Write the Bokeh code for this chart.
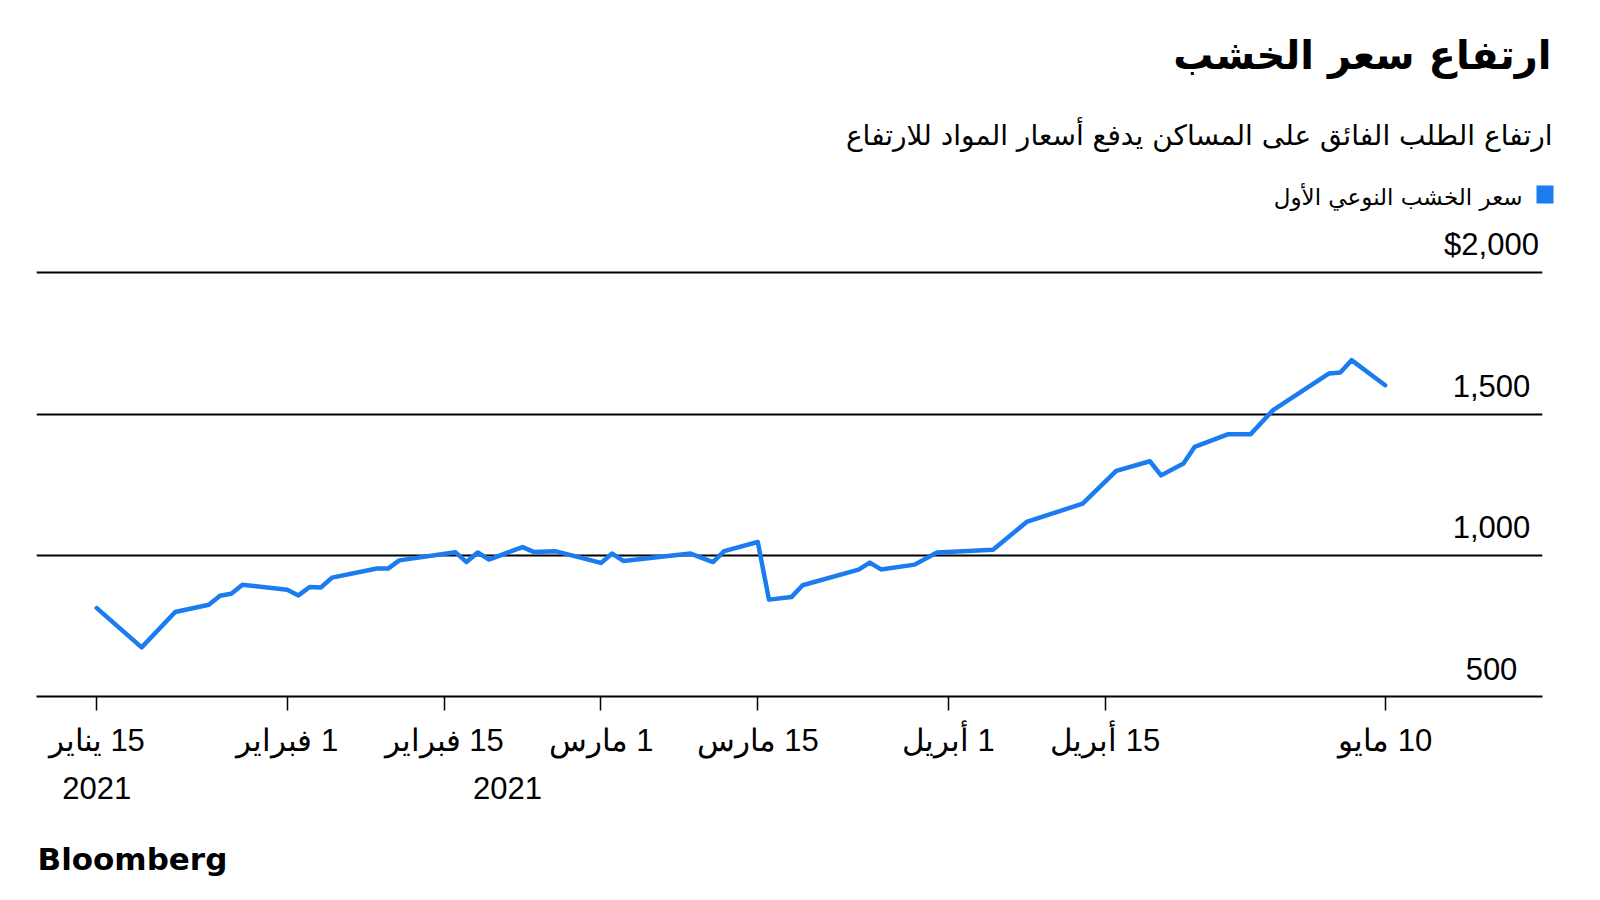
from datetime import datetime
import pandas as pd
from bokeh.plotting import figure
from bokeh.layouts import column
from bokeh.models import (Range1d, FixedTicker, Label, BoxAnnotation, ColumnDataSource,
                          DatetimeAxis)
from bokeh.core.properties import value
from bokeh.embed import file_html
from bokeh.resources import INLINE

# ---------------- data ----------------
dates = ["2021-01-15", "2021-01-19", "2021-01-22", "2021-01-25", "2021-01-26", "2021-01-27",
         "2021-01-28", "2021-02-01", "2021-02-02", "2021-02-03", "2021-02-04", "2021-02-05",
         "2021-02-09", "2021-02-10", "2021-02-11", "2021-02-16", "2021-02-17", "2021-02-18",
         "2021-02-19", "2021-02-22", "2021-02-23", "2021-02-25", "2021-03-01", "2021-03-02",
         "2021-03-03", "2021-03-09", "2021-03-11", "2021-03-12", "2021-03-15", "2021-03-16",
         "2021-03-18", "2021-03-19", "2021-03-24", "2021-03-25", "2021-03-26", "2021-03-29",
         "2021-03-31", "2021-04-05", "2021-04-08", "2021-04-13", "2021-04-16", "2021-04-19",
         "2021-04-20", "2021-04-22", "2021-04-23", "2021-04-26", "2021-04-28", "2021-04-30",
         "2021-05-05", "2021-05-06", "2021-05-07", "2021-05-10"]
prices = [813, 674, 799, 825, 857, 864,
          896, 878, 858, 888, 886, 921,
          953, 953, 982, 1011, 976, 1010,
          985, 1029, 1012, 1014, 973, 1006,
          980, 1006, 976, 1015, 1047, 843,
          852, 894, 949, 974, 950, 967,
          1010, 1020, 1118, 1183, 1299, 1333,
          1283, 1325, 1384, 1429, 1429, 1514,
          1644, 1647, 1691, 1602]

tick_dates = ["2021-01-15", "2021-02-01", "2021-02-15", "2021-03-01", "2021-03-15",
              "2021-04-01", "2021-04-15", "2021-05-10"]
tick_labels = ["15 يناير", "1 فبراير", "15 فبراير", "1 مارس", "15 مارس",
               "1 أبريل", "15 أبريل", "10 مايو"]
year_label_dates = ["2021-01-15", "2021-02-20 16:00"]
year_labels = ["2021", "2021"]

y_ticks = [500, 1000, 1500, 2000]
y_labels = ["500", "1,000", "1,500", "$2,000"]

title_text = "ارتفاع سعر الخشب"
subtitle_text = "ارتفاع الطلب الفائق على المساكن يدفع أسعار المواد للارتفاع"
legend_text = "سعر الخشب النوعي الأول"
source_text = "Bloomberg"

BLUE = "#1b7cf0"
RLM = "\u200f"


def blank_panel(height):
    f = figure(width=1600, height=height, output_backend="svg", toolbar_location=None,
               x_axis_location=None, y_axis_location=None, frame_align=False,
               x_range=Range1d(0, 1600), y_range=Range1d(0, height),
               min_border_left=0, min_border_right=0, min_border_top=0, min_border_bottom=0)
    f.outline_line_color = None
    f.grid.visible = False
    f.background_fill_color = "white"
    f.border_fill_color = "white"
    return f


# ---------------- header (title, subtitle, legend) ----------------
HEADER_H = 214
head = blank_panel(HEADER_H)
head.add_layout(Label(x=1551, y=HEADER_H - 54, x_units="screen", y_units="screen", text=title_text,
                      text_align="right", text_baseline="alphabetic", text_font="DejaVu Sans",
                      text_font_style="bold", text_font_size="40px", text_color="black"))
head.add_layout(Label(x=1552, y=HEADER_H - 135, x_units="screen", y_units="screen", text=subtitle_text,
                      text_align="right", text_baseline="alphabetic", text_font="DejaVu Sans",
                      text_font_size="28px", text_color="black"))
head.add_layout(BoxAnnotation(left=1536, right=1553, bottom=HEADER_H - 203, top=HEADER_H - 185,
                              left_units="screen", right_units="screen",
                              bottom_units="screen", top_units="screen",
                              fill_color=BLUE, fill_alpha=1.0, line_color=None))
head.add_layout(Label(x=1522, y=HEADER_H - 196, x_units="screen", y_units="screen", text=legend_text,
                      text_align="right", text_baseline="alphabetic", text_font="DejaVu Sans",
                      text_font_size="23px", text_color="black"))

# ---------------- chart ----------------
FRAME_H = 482
BOTTOM = 140
CHART_H = FRAME_H + BOTTOM
x_start = datetime(2021, 1, 9, 14, 48)
x_end = datetime(2021, 5, 24, 1, 7)

p = figure(width=1600, height=CHART_H, output_backend="svg", toolbar_location=None,
           x_axis_type="datetime", y_axis_location=None, frame_align=False,
           x_range=Range1d(x_start, x_end), y_range=Range1d(500, 2206.7),
           min_border_left=36, min_border_right=58, min_border_top=0, min_border_bottom=BOTTOM)
p.outline_line_color = None
p.background_fill_color = "white"
p.border_fill_color = "white"

# grid
p.xgrid.visible = False
p.ygrid.ticker = FixedTicker(ticks=[t for t in y_ticks if t > 500])
p.ygrid.grid_line_color = "black"
p.ygrid.grid_line_width = 2
p.ygrid.grid_line_alpha = 1.0

# x axis
tick_ms = [pd.Timestamp(d).value / 1e6 for d in tick_dates]
ax = p.xaxis[0]
ax.ticker = FixedTicker(ticks=tick_ms)
ax.major_label_overrides = {float(t): RLM + lab for t, lab in zip(tick_ms, tick_labels)}
ax.axis_line_color = "black"
ax.axis_line_width = 2
ax.major_tick_line_color = "black"
ax.major_tick_line_width = 1.5
ax.major_tick_out = 14
ax.major_tick_in = 0
ax.minor_tick_line_color = None
ax.major_label_text_font = "Liberation Sans"
ax.major_label_text_font_size = "31px"
ax.major_label_text_color = "black"
ax.major_label_standoff = 12

# second axis carrying the year labels
year_ms = [pd.Timestamp(d).value / 1e6 for d in year_label_dates]
ax2 = DatetimeAxis(ticker=FixedTicker(ticks=year_ms),
                   major_label_overrides={float(t): lab for t, lab in zip(year_ms, year_labels)},
                   axis_line_color=None, major_tick_line_color=None, minor_tick_line_color=None,
                   major_tick_out=0, major_tick_in=0, major_label_standoff=16,
                   major_label_text_font="Liberation Sans", major_label_text_font_size="31px",
                   major_label_text_color="black")
p.add_layout(ax2, "below")

# price line
src = ColumnDataSource(dict(x=pd.to_datetime(dates), y=prices))
p.line("x", "y", source=src, line_color=BLUE, line_width=4.5, line_join="round", line_cap="round")

# y labels (inside plot, above grid lines)
ysrc = ColumnDataSource(dict(x=[x_end] * len(y_ticks), y=y_ticks, t=y_labels))
p.text("x", "y", text="t", source=ysrc, x_offset=-51, y_offset=-28,
       text_align="center", text_baseline="alphabetic",
       text_font=value("Liberation Sans"), text_font_size="31px", text_color="black")

# ---------------- footer (source) ----------------
FOOT_H = 900 - HEADER_H - CHART_H
foot = blank_panel(FOOT_H)
foot.add_layout(Label(x=37, y=42, x_units="screen", y_units="screen", text=source_text,
                      text_align="left", text_baseline="alphabetic", text_font="DejaVu Sans",
                      text_font_style="bold", text_font_size="31px", text_color="black"))

layout = column(head, p, foot, spacing=0)
open("out.html", "w").write(file_html(layout, INLINE))
